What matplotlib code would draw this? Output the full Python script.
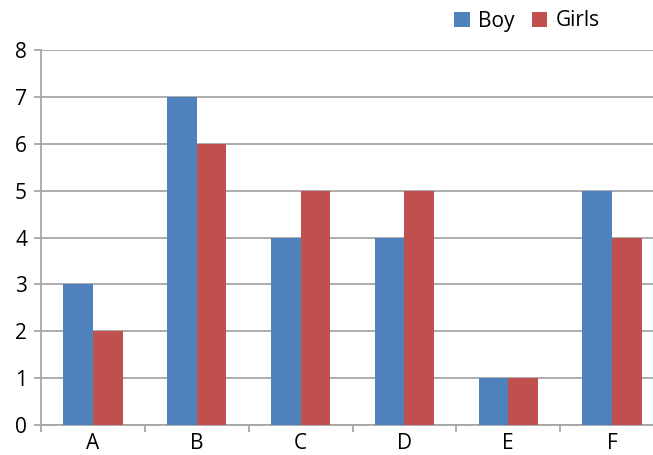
import matplotlib.pyplot as plt
import numpy as np

plt.rcParams['font.family'] = ['Open Sans', 'DejaVu Sans']

categories = ['A', 'B', 'C', 'D', 'E', 'F']
boy = [3, 7, 4, 4, 1, 5]
girls = [2, 6, 5, 5, 1, 4]

fig = plt.figure(figsize=(6.53, 4.55), dpi=100)
# the plot area runs past the right edge of the image in the original
ax = fig.add_axes([41 / 653, 30 / 455, 623 / 653, 375 / 455])

x = np.arange(len(categories))
w = 0.285
ax.bar(x - w / 2, boy, w, color='#4F81BD', label='Boy', zorder=3)
ax.bar(x + w / 2, girls, w, color='#C0504D', label='Girls', zorder=3)

ax.set_xlim(-0.5, len(categories) - 0.5)
ax.set_ylim(0, 8)
ax.set_yticks(range(0, 9))
ax.yaxis.grid(True, color='#a6a6a6', linewidth=1.3, zorder=0)

ax.set_xticks(np.arange(-0.5, len(categories), 1))
ax.set_xticklabels([])
ax.set_xticks(x, minor=True)
ax.set_xticklabels(categories, minor=True)
ax.tick_params(axis='x', which='minor', length=0, labelsize=15, pad=6)
ax.tick_params(axis='x', which='major', length=5, color='#a6a6a6', width=1.3)
ax.tick_params(axis='y', length=5, color='#a6a6a6', width=1.3, labelsize=15, pad=5)

for s in ['top', 'right']:
    ax.spines[s].set_visible(False)
for s in ['left', 'bottom']:
    ax.spines[s].set_color('#a6a6a6')
    ax.spines[s].set_linewidth(1.3)

fig.legend(loc='center', bbox_to_anchor=(527 / 653, 1 - 21 / 455), ncol=2, frameon=False,
           fontsize=15, handlelength=0.75, handleheight=0.75, handletextpad=0.4,
           columnspacing=0.8)

plt.savefig('out.png', dpi=100)
